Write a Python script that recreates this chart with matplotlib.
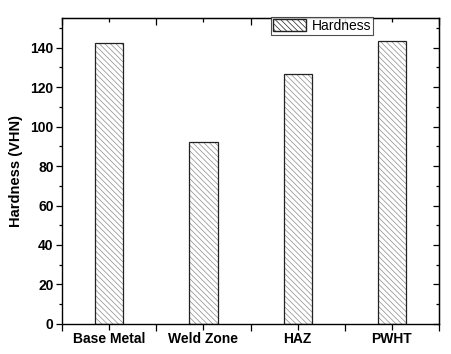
import matplotlib
matplotlib.use('Agg')
from matplotlib import pyplot as plt
from matplotlib.ticker import MultipleLocator
from matplotlib.patches import Patch
import numpy as np

categories = ['Base Metal', 'Weld Zone', 'HAZ', 'PWHT']
hardness = [142.5, 92, 126.8, 143.5]

plt.rcParams['font.family'] = ['Liberation Sans', 'DejaVu Sans']
plt.rcParams['hatch.linewidth'] = 0.5

fig = plt.figure(figsize=(4.51, 3.54), dpi=100)
ax = fig.add_axes([0.1375, 0.085, 0.836, 0.864])

x = np.arange(1, len(categories) + 1)
# hatch in grey, outline in black (two passes)
ax.bar(x, hardness, width=0.3, color='white', edgecolor='#8c8c8c', hatch='\\\\\\\\\\\\', linewidth=0)
ax.bar(x, hardness, width=0.3, fill=False, edgecolor='#222222', linewidth=0.9)

ax.set_xlim(0.5, 4.5)
ax.set_ylim(0, 155)
ax.set_xticks(x)
ax.set_xticklabels(categories, fontweight='bold', fontsize=10)
ax.xaxis.set_minor_locator(MultipleLocator(0.5))
ax.yaxis.set_major_locator(MultipleLocator(20))
ax.yaxis.set_minor_locator(MultipleLocator(10))
for lab in ax.get_yticklabels():
    lab.set_fontweight('bold')
    lab.set_fontsize(10)

ax.tick_params(axis='both', which='major', direction='out', length=4, width=0.9, pad=2)
ax.tick_params(axis='both', which='minor', direction='out', length=2.5, width=0.9)
ax.tick_params(axis='x', which='minor', length=5)
ax2 = ax.secondary_xaxis('top')
ax2.set_xticks(x)
ax2.set_xticklabels([])
ax2.xaxis.set_minor_locator(MultipleLocator(0.5))
ax2.tick_params(which='major', direction='in', length=3, width=0.9)
ax2.tick_params(which='minor', direction='in', length=5, width=0.9)
ax3 = ax.secondary_yaxis('right')
ax3.yaxis.set_major_locator(MultipleLocator(20))
ax3.yaxis.set_minor_locator(MultipleLocator(10))
ax3.set_yticklabels([])
ax3.tick_params(which='major', direction='in', length=4, width=0.9)
ax3.tick_params(which='minor', direction='in', length=2.5, width=0.9)
for sp in ax.spines.values():
    sp.set_linewidth(1.0)

ax.set_ylabel('Hardness (VHN)', fontweight='bold', fontsize=10.5, labelpad=5)

h = Patch(facecolor='white', edgecolor='#222222', hatch='\\\\\\\\\\\\', label='Hardness')
leg = ax.legend(handles=[h], loc='upper left', bbox_to_anchor=(0.553, 1.005), fontsize=10,
                frameon=True, fancybox=False, edgecolor='#222222', borderpad=0.15,
                handlelength=2.4, handleheight=1.0, handletextpad=0.4, borderaxespad=0)
leg.get_frame().set_linewidth(0.8)
leg.set_zorder(5)

fig.savefig('out.png', dpi=100)
